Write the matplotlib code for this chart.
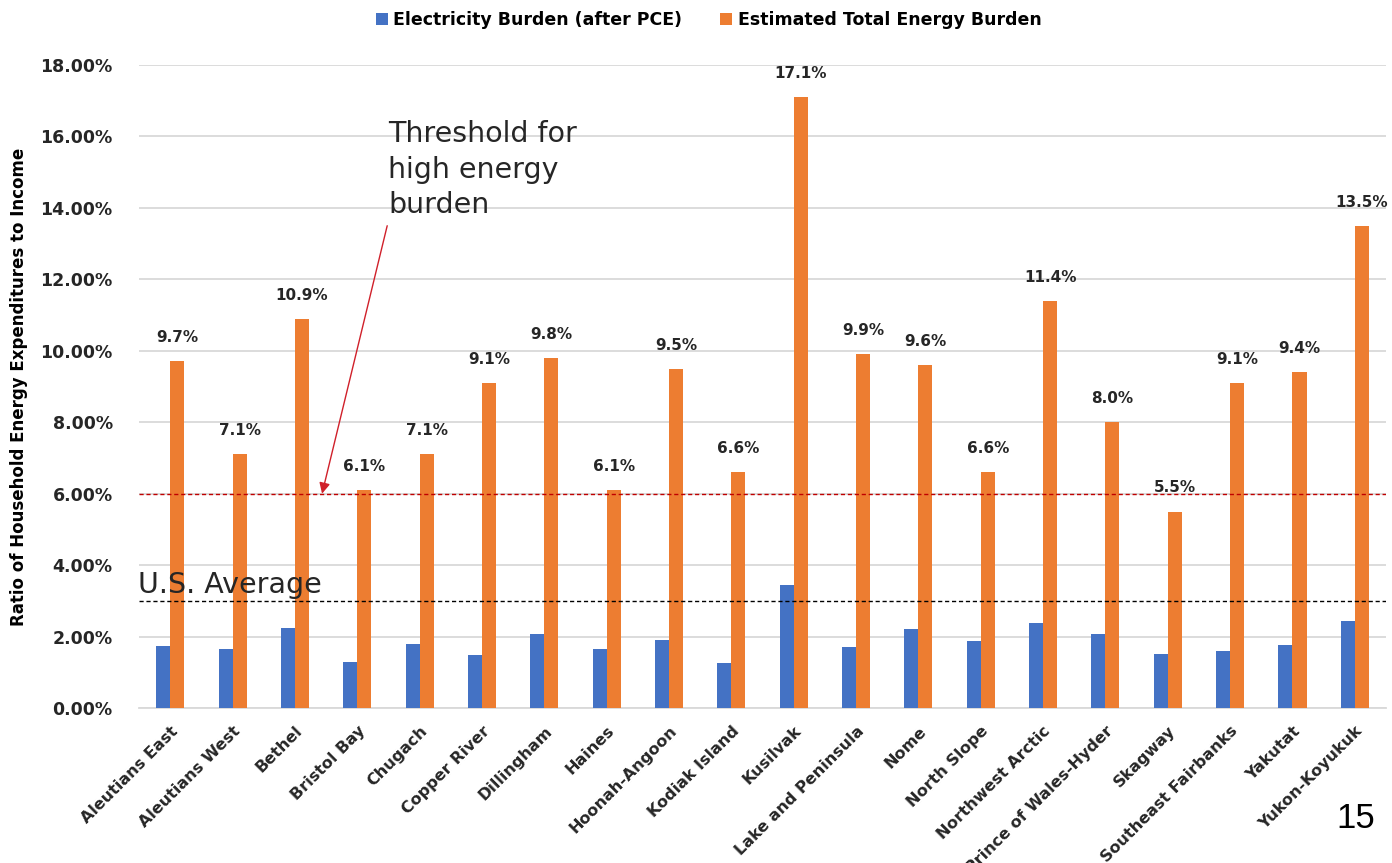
import matplotlib.pyplot as plt
import numpy as np

# boroughs / census areas
areas = ['Aleutians East', 'Aleutians West', 'Bethel', 'Bristol Bay', 'Chugach',
         'Copper River', 'Dillingham', 'Haines', 'Hoonah-Angoon', 'Kodiak Island',
         'Kusilvak', 'Lake and Peninsula', 'Nome', 'North Slope', 'Northwest Arctic',
         'Prince of Wales-Hyder', 'Skagway', 'Southeast Fairbanks', 'Yakutat',
         'Yukon-Koyukuk']

# burden in percent of household income
elec_burden = [1.74, 1.65, 2.24, 1.30, 1.79, 1.48, 2.07, 1.65, 1.90, 1.26,
               3.44, 1.71, 2.21, 1.88, 2.38, 2.07, 1.51, 1.60, 1.76, 2.44]
total_burden = [9.7, 7.1, 10.9, 6.1, 7.1, 9.1, 9.8, 6.1, 9.5, 6.6,
                17.1, 9.9, 9.6, 6.6, 11.4, 8.0, 5.5, 9.1, 9.4, 13.5]

high_threshold = 6.0
us_average = 3.0

blue = '#4472C4'
orange = '#ED7D31'
grid_col = '#d9d9d9'
txt_col = '#262626'

fig = plt.figure(figsize=(13.92, 8.63), dpi=100)
ax = fig.add_axes([0.0999, 0.1796, 0.8958, 0.7451])

x = np.arange(len(areas))
w = 0.225
b1 = ax.bar(x - w / 2, elec_burden, w, color=blue, label='Electricity Burden (after PCE)', zorder=3)
b2 = ax.bar(x + w / 2, total_burden, w, color=orange, label='Estimated Total Energy Burden', zorder=3)

for xi, v in zip(x, total_burden):
    ax.text(xi + w / 2, v + 0.45, '%.1f%%' % v, ha='center', va='bottom',
            fontsize=11, fontweight='bold', color=txt_col, zorder=4)

ax.set_xlim(-0.5, len(areas) - 0.5)
ax.set_ylim(0, 18)
ax.set_yticks(np.arange(0, 18.1, 2))
ax.set_yticklabels(['%.2f%%' % t for t in np.arange(0, 18.1, 2)],
                   fontsize=12.5, fontweight='bold', color=txt_col)
ax.yaxis.grid(True, color=grid_col, lw=1.3, zorder=0)
ax.set_axisbelow(True)
ax.tick_params(axis='both', length=0)
ax.tick_params(axis='y', pad=19)
for s in ['top', 'right', 'left']:
    ax.spines[s].set_visible(False)
ax.spines['bottom'].set_color(grid_col)
ax.spines['bottom'].set_linewidth(1.3)

ax.set_xticks(x)
ax.set_xticklabels(areas, rotation=45, ha='right', rotation_mode='anchor',
                   fontsize=11.5, fontweight='bold', color=txt_col)
ax.tick_params(axis='x', pad=11)

ax.set_ylabel('Ratio of Household Energy Expenditures to Income',
              fontsize=12, fontweight='bold', color='black', labelpad=9)

# reference lines
ax.axhline(high_threshold, color='#c00000', lw=1.0, ls=(0, (3, 2)), zorder=4)
ax.axhline(us_average, color='black', lw=1.0, ls=(0, (3, 2)), zorder=4)

ax.text(-0.52, us_average + 0.22, 'U.S. Average', fontsize=20.5, color=txt_col,
        ha='left', va='baseline', zorder=5)

ax.text(3.5, 16.45, 'Threshold for\nhigh energy\nburden', fontsize=20.5,
        color=txt_col, ha='left', va='top', linespacing=1.33, zorder=5)
ax.annotate('', xy=(2.435, high_threshold), xytext=(3.48, 13.5),
            arrowprops=dict(arrowstyle='-|>', color='#d0202a', lw=1.0,
                            mutation_scale=16, shrinkA=0, shrinkB=0),
            zorder=5)

fig.legend(handles=[b1, b2], loc='center', bbox_to_anchor=(0.509, 0.977), ncol=2,
           frameon=False, prop={'weight': 'bold', 'size': 12.5},
           handlelength=0.7, handleheight=0.7, handletextpad=0.3, columnspacing=2.2)

fig.text(0.988, 0.0406, '15', fontsize=25, family='Liberation Sans',
         ha='right', va='baseline', color='black')

fig.savefig('out.png', dpi=100)
